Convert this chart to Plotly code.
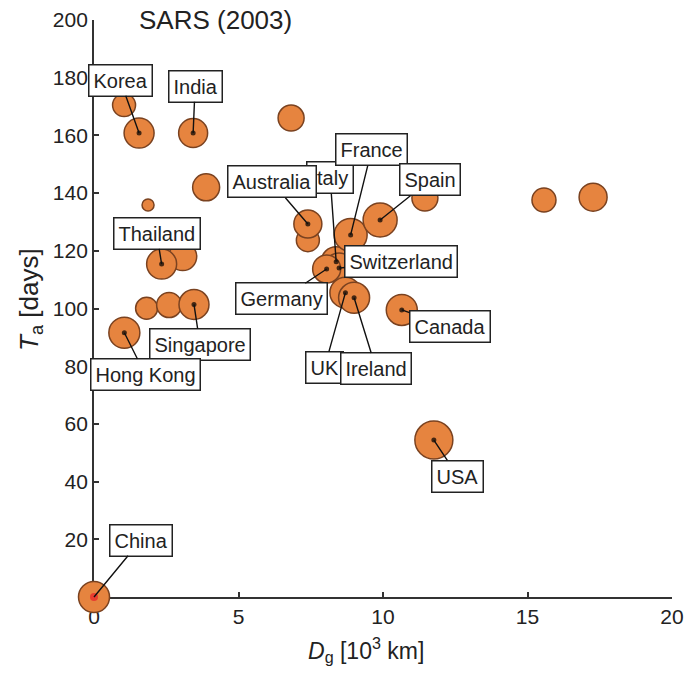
import plotly.graph_objects as go

# ---- data ----
# labelled countries: distance D_g [10^3 km], arrival time T_a [days], bubble weight
names = ["China", "Korea", "India", "Thailand", "Singapore", "Hong Kong",
         "Italy", "Australia", "France", "Spain", "Switzerland", "Germany",
         "UK", "Ireland", "Canada", "USA"]
lab_x = [0.0, 1.56, 3.43, 2.34, 3.46, 1.05,
         8.38, 7.40, 8.88, 9.90, 8.48, 8.05,
         8.70, 9.00, 10.65, 11.76]
lab_y = [0.0, 160.8, 160.8, 115.4, 101.4, 91.6,
         116.2, 129.3, 125.5, 130.7, 114.0, 113.7,
         105.5, 103.7, 99.5, 54.4]
lab_w = [31, 30, 29, 30, 30, 31,
         30, 28, 33, 34, 30, 28,
         31, 31, 31, 38]

# unlabelled countries
other_x = [1.04, 6.82, 3.88, 1.87, 7.40, 11.45, 15.57, 17.27, 3.07, 1.82, 2.60]
other_y = [170.5, 166.0, 142.0, 135.9, 123.7, 138.3, 137.6, 138.6, 118.0, 100.1, 101.2]
other_w = [23, 26, 27, 12, 23, 26, 24, 28, 28, 22, 25]

x_ticks = [0, 5, 10, 15, 20]
y_ticks = [20, 40, 60, 80, 100, 120, 140, 160, 180, 200]

# ---- label box offsets (pixels, relative to the point) ----
offsets = {
    "China": (47, -57), "Korea": (-19, -53), "India": (2, -47),
    "Thailand": (-5, -31), "Singapore": (6, 40), "Hong Kong": (21, 42),
    "Italy": (-6, -84), "Australia": (-36, -42), "France": (21, -85),
    "Spain": (50, -40), "Switzerland": (62, -7), "Germany": (-45, 30),
    "UK": (-21, 75), "Ireland": (22, 71), "Canada": (48, 17), "USA": (24, 36),
}

FONT = "Liberation Sans, Arial, sans-serif"
FILL = "#E6843F"
EDGE = "#7A4220"
TXT = "#222"

L, R, T, B = 94, 14, 20, 80
W, H = 686, 677
pw, ph = W - L - R, H - T - B


def px_to_paper(px, py):
    return (px - L) / pw, (H - B - py) / ph


fig = go.Figure()

all_x = other_x + lab_x
all_y = other_y + lab_y
all_w = other_w + lab_w
fig.add_trace(go.Scatter(
    x=all_x, y=all_y, mode="markers",
    marker=dict(size=all_w, color=FILL, line=dict(color=EDGE, width=1.5), opacity=1),
    cliponaxis=False, hoverinfo="skip", showlegend=False))

dot_col = ["#E8202A" if n == "China" else "black" for n in names]
dot_size = [8 if n == "China" else 5 for n in names]
fig.add_trace(go.Scatter(
    x=lab_x, y=lab_y, mode="markers",
    marker=dict(size=dot_size, color=dot_col, line=dict(width=0)),
    cliponaxis=False, hoverinfo="skip", showlegend=False))

annotations = []
for n, x, y in zip(names, lab_x, lab_y):
    ax, ay = offsets[n]
    annotations.append(dict(
        x=x, y=y, xref="x", yref="y", text=n, showarrow=True,
        ax=ax, ay=ay, arrowhead=0, arrowwidth=1.4, arrowcolor="#111",
        standoff=0, startstandoff=0,
        bgcolor="white", bordercolor=TXT, borderwidth=1.5, borderpad=4,
        font=dict(family=FONT, size=20, color=TXT)))

# title
tx, ty = px_to_paper(215, 20)
annotations.append(dict(
    x=tx, y=ty, xref="paper", yref="paper", text="SARS (2003)", showarrow=False,
    xanchor="center", yanchor="middle",
    font=dict(family=FONT, size=26, color=TXT)))

# axis titles
xx, xy = px_to_paper(366, 650)
annotations.append(dict(
    x=xx, y=xy, xref="paper", yref="paper",
    text="<i>D</i><sub>g</sub> [10<sup>3</sup> km]", showarrow=False,
    xanchor="center", yanchor="middle",
    font=dict(family=FONT, size=23, color=TXT)))
yx, yy = px_to_paper(30, 300)
annotations.append(dict(
    x=yx, y=yy, xref="paper", yref="paper",
    text="<i>T</i><sub>a</sub> [days]", showarrow=False, textangle=-90,
    xanchor="center", yanchor="middle",
    font=dict(family=FONT, size=26, color=TXT)))

fig.update_layout(
    width=W, height=H,
    margin=dict(l=L, r=R, t=T, b=B, autoexpand=False),
    paper_bgcolor="white", plot_bgcolor="white",
    font=dict(family=FONT, color=TXT),
    annotations=annotations,
    xaxis=dict(range=[0, 20], tickvals=x_ticks, ticks="inside", ticklen=5,
               tickwidth=1.5, tickcolor="#333", showline=True, linecolor="#333",
               linewidth=1.8, showgrid=False, zeroline=False, layer="below traces",
               automargin=False,
               tickfont=dict(family=FONT, size=21, color=TXT)),
    yaxis=dict(range=[0, 200], tickvals=y_ticks, ticks="inside", ticklen=5,
               tickwidth=1.5, tickcolor="#333", showline=True, linecolor="#333",
               linewidth=1.8, showgrid=False, zeroline=False, layer="below traces",
               automargin=False,
               tickfont=dict(family=FONT, size=21, color=TXT)),
)

fig.write_html("out.html")
